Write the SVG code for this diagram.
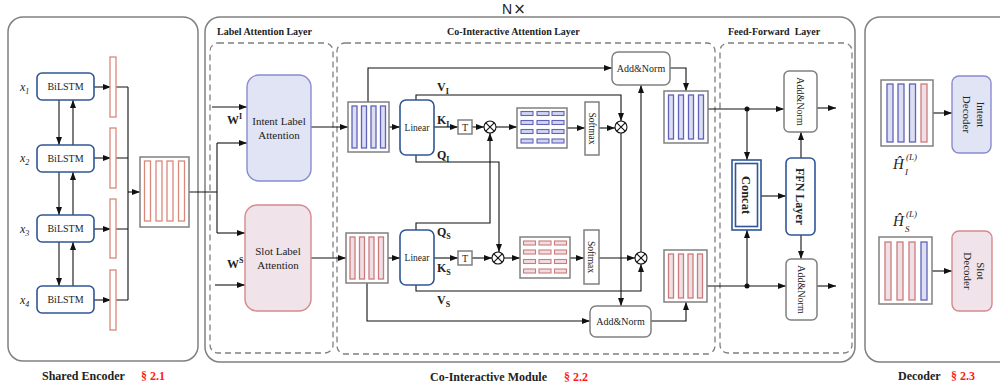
<svg xmlns="http://www.w3.org/2000/svg" width="1000" height="389" viewBox="0 0 1000 389">
<defs>
<style>
.t{font-family:"Liberation Serif",serif;fill:#222}
.b{font-weight:bold}
.frame{fill:#fff;stroke:#808080;stroke-width:1.5}
.dash{fill:none;stroke:#7f7f7f;stroke-width:1.3;stroke-dasharray:6 4}
.blu{fill:#fff;stroke:#2f5597;stroke-width:1.6}
.gr{fill:#fff;stroke:#808080;stroke-width:1.5}
.ln{fill:none;stroke:#111;stroke-width:1.1}
.ar{marker-end:url(#ah)}
.ob{fill:#fff;stroke:#d9897a;stroke-width:1.3}
.bb{fill:#dcdff2;stroke:#6262b8;stroke-width:1.3}
.rb{fill:#eee0e6;stroke:#cc7b7b;stroke-width:1.3}
.bc{fill:#d0d5f2;stroke:#6262b8;stroke-width:1.1}
.rc{fill:#f0dde2;stroke:#cc7b7b;stroke-width:1.1}
.red{fill:#ff1a1a}
</style>
<marker id="ah" viewBox="0 0 8 6" refX="8" refY="3" markerWidth="8" markerHeight="6" markerUnits="userSpaceOnUse" orient="auto">
<path d="M0,0 L8,3 L0,6 z" fill="#111"/>
</marker>
<g id="otimes">
<circle cx="0" cy="0" r="6" fill="#fff" stroke="#111" stroke-width="1.1"/>
<path d="M-4.2,-4.2 L4.2,4.2 M-4.2,4.2 L4.2,-4.2" stroke="#111" stroke-width="1.1"/>
</g>
</defs>
<rect width="1000" height="389" fill="#fff"/>

<!-- N x -->
<text x="502" y="14" font-family="Liberation Sans, sans-serif" font-size="14" fill="#222">N<tspan font-family="DejaVu Sans, sans-serif" font-size="15" dx="1">×</tspan></text>

<!-- Frames -->
<g id="shared-encoder-frame">
<rect class="frame" x="8" y="17" width="190" height="344" rx="15"/>
</g>
<g id="co-interactive-frame">
<rect class="frame" x="205" y="17" width="650" height="345" rx="15"/>
<rect class="dash" x="210" y="43" width="123" height="310" rx="8"/>
<rect class="dash" x="337" y="43" width="378" height="311" rx="8"/>
<rect class="dash" x="720" y="43" width="132" height="310" rx="8"/>
<text class="t b" x="217" y="35" font-size="10">Label Attention Layer</text>
<text class="t b" x="447" y="35" font-size="10">Co-Interactive Attention Layer</text>
<text class="t b" x="728" y="35" font-size="10" xml:space="preserve">Feed-Forward  Layer</text>
</g>
<g id="decoder-frame">
<rect class="frame" x="865" y="17" width="160" height="345" rx="15"/>
</g>

<!-- Connectors -->
<g id="connectors">
<path class="ln ar" d="M59,100 V145"/>
<path class="ln ar" d="M73,145 V100"/>
<path class="ln ar" d="M59,172 V215"/>
<path class="ln ar" d="M73,215 V172"/>
<path class="ln ar" d="M59,242 V286"/>
<path class="ln ar" d="M73,286 V242"/>
<path class="ln ar" d="M94,87 H111"/>
<path class="ln ar" d="M94,158 H111"/>
<path class="ln ar" d="M94,229 H111"/>
<path class="ln ar" d="M94,300 H111"/>
<path class="ln" d="M116,87 H128 M116,158 H128 M116,229 H128 M116,300 H128 M128,87 V300"/>
<path class="ln ar" d="M128,192 H140"/>
<path class="ln" d="M189,192 H217 M217,143 V233"/>
<path class="ln ar" d="M217,143 H247"/>
<path class="ln ar" d="M217,233 H245"/>
<path class="ln ar" d="M212,107 H247"/>
<path class="ln ar" d="M215,285 H245"/>
<path class="ln ar" d="M311,127 H348"/>
<path class="ln ar" d="M311,258 H346"/>
<path class="ln ar" d="M389,127 H400"/>
<path class="ln ar" d="M388,258 H400"/>
<path class="ln ar" d="M368,102 V68 H612"/>
<path class="ln ar" d="M670,68 H686 V91"/>
<path class="ln ar" d="M416,100 V95 H621 V121"/>
<path class="ln ar" d="M434,127 H458"/>
<path class="ln ar" d="M472,127 H484"/>
<path class="ln ar" d="M496,127 H517"/>
<path class="ln ar" d="M567,128 H585"/>
<path class="ln ar" d="M599,128 H615"/>
<path class="ln ar" d="M416,155 V162 H499 V252"/>
<path class="ln ar" d="M416,230 V223 H490 V133"/>
<path class="ln ar" d="M434,258 H458"/>
<path class="ln ar" d="M472,258 H492"/>
<path class="ln ar" d="M504,258 H520"/>
<path class="ln ar" d="M570,258 H584"/>
<path class="ln ar" d="M599,258 H635"/>
<path class="ln ar" d="M416,285 V291 H641 V264"/>
<path class="ln ar" d="M621,133 V306"/>
<path class="ln ar" d="M641,252 V85"/>
<path class="ln ar" d="M367,283 V321 H590"/>
<path class="ln ar" d="M651,321 H686 V302"/>
<path class="ln ar" d="M708,109 H784"/>
<path class="ln ar" d="M747,109 V160"/>
<path class="ln ar" d="M707,286 H786"/>
<path class="ln ar" d="M747,286 V230"/>
<path class="ln ar" d="M761,196 H786"/>
<path class="ln ar" d="M801,158 V132"/>
<path class="ln ar" d="M801,235 V259"/>
<path class="ln ar" d="M817,108 H836"/>
<path class="ln ar" d="M817,286 H836"/>
<circle cx="747" cy="109" r="2.5" fill="#111"/>
<circle cx="747" cy="286" r="2.5" fill="#111"/>
<path class="ln ar" d="M933,113 H952"/>
<path class="ln ar" d="M932,271 H952"/>
</g>

<!-- Encoder nodes -->
<g id="x-labels" class="t" font-style="italic" font-size="12">
<text x="20" y="91">x<tspan font-size="8" dy="3">1</tspan></text>
<text x="20" y="162">x<tspan font-size="8" dy="3">2</tspan></text>
<text x="20" y="233">x<tspan font-size="8" dy="3">3</tspan></text>
<text x="20" y="304">x<tspan font-size="8" dy="3">4</tspan></text>
</g>
<g id="bilstm1"><rect class="blu" x="37" y="73" width="57" height="27" rx="5"/><text class="t" x="65.5" y="90" font-size="10" text-anchor="middle">BiLSTM</text></g>
<g id="bilstm2"><rect class="blu" x="37" y="145" width="57" height="27" rx="5"/><text class="t" x="65.5" y="162" font-size="10" text-anchor="middle">BiLSTM</text></g>
<g id="bilstm3"><rect class="blu" x="37" y="215" width="57" height="27" rx="5"/><text class="t" x="65.5" y="232" font-size="10" text-anchor="middle">BiLSTM</text></g>
<g id="bilstm4"><rect class="blu" x="37" y="286" width="57" height="27" rx="5"/><text class="t" x="65.5" y="303" font-size="10" text-anchor="middle">BiLSTM</text></g>
<g id="hidden-bars">
<rect class="ob" x="110" y="57" width="6" height="60"/>
<rect class="ob" x="110" y="128" width="6" height="60"/>
<rect class="ob" x="110" y="199" width="6" height="59"/>
<rect class="ob" x="110" y="270" width="6" height="60"/>
</g>
<g id="encoder-output">
<rect class="gr" x="140" y="157" width="49" height="70"/>
<rect class="ob" x="144.5" y="161" width="6" height="60"/>
<rect class="ob" x="156" y="161" width="6" height="60"/>
<rect class="ob" x="167" y="161" width="6" height="60"/>
<rect class="ob" x="178.5" y="161" width="6" height="60"/>
</g>

<!-- Label attention -->
<g id="w-labels" class="t b" font-size="12">
<text x="227" y="124">W<tspan font-size="8" dy="-5">I</tspan></text>
<text x="227" y="268">W<tspan font-size="8" dy="-5">S</tspan></text>
</g>
<g id="intent-label-attention">
<rect x="247" y="75" width="64" height="106" rx="12" fill="#e1e4f4" stroke="#8a8ad0" stroke-width="1.4"/>
<text class="t" x="279" y="125" font-size="11" text-anchor="middle">Intent Label</text>
<text class="t" x="279" y="139" font-size="11" text-anchor="middle">Attention</text>
</g>
<g id="slot-label-attention">
<rect x="245" y="205" width="66" height="106" rx="12" fill="#f0e4ea" stroke="#d48a8a" stroke-width="1.4"/>
<text class="t" x="278" y="255" font-size="11" text-anchor="middle">Slot Label</text>
<text class="t" x="278" y="269" font-size="11" text-anchor="middle">Attention</text>
</g>

<!-- Co-interactive -->
<g id="intent-rep">
<rect class="gr" x="348" y="102" width="41" height="50"/>
<rect class="bb" x="352" y="106" width="5" height="42"/>
<rect class="bb" x="361.5" y="106" width="5" height="42"/>
<rect class="bb" x="371" y="106" width="5" height="42"/>
<rect class="bb" x="380.5" y="106" width="5" height="42"/>
</g>
<g id="slot-rep">
<rect class="gr" x="346" y="233" width="42" height="50"/>
<rect class="rb" x="350" y="237" width="5" height="42"/>
<rect class="rb" x="359.5" y="237" width="5" height="42"/>
<rect class="rb" x="369" y="237" width="5" height="42"/>
<rect class="rb" x="378.5" y="237" width="5" height="42"/>
</g>
<g id="linear-intent"><rect class="blu" x="400" y="100" width="34" height="55" rx="6"/><text class="t" x="417" y="131" font-size="9.5" text-anchor="middle">Linear</text></g>
<g id="linear-slot"><rect class="blu" x="400" y="230" width="34" height="55" rx="6"/><text class="t" x="417" y="261" font-size="9.5" text-anchor="middle">Linear</text></g>
<g id="qkv-labels" class="t b" font-size="12">
<text x="437" y="91">V<tspan font-size="8" dy="3">I</tspan></text>
<text x="437" y="124">K<tspan font-size="8" dy="3">I</tspan></text>
<text x="437" y="159">Q<tspan font-size="8" dy="3">I</tspan></text>
<text x="437" y="236">Q<tspan font-size="8" dy="3">S</tspan></text>
<text x="437" y="272">K<tspan font-size="8" dy="3">S</tspan></text>
<text x="437" y="304">V<tspan font-size="8" dy="3">S</tspan></text>
</g>
<g id="t-intent"><rect class="gr" x="458" y="120" width="14" height="14" stroke-width="1.3"/><text class="t" x="465" y="131" font-size="10" text-anchor="middle">T</text></g>
<g id="t-slot"><rect class="gr" x="458" y="251" width="14" height="14" stroke-width="1.3"/><text class="t" x="465" y="262" font-size="10" text-anchor="middle">T</text></g>
<g id="mul-intent-1"><use href="#otimes" x="490" y="127"/></g>
<g id="mul-slot-1"><use href="#otimes" x="498" y="258"/></g>
<g id="mul-intent-2"><use href="#otimes" x="621" y="127"/></g>
<g id="mul-slot-2"><use href="#otimes" x="641" y="258"/></g>
<g id="matrix-intent">
<rect class="gr" x="517" y="108" width="50" height="40" stroke-width="1.6"/>
<g class="bc">
<rect x="521" y="111.5" width="12" height="4"/><rect x="537" y="111.5" width="12" height="4"/><rect x="552" y="111.5" width="12" height="4"/>
<rect x="521" y="120.5" width="12" height="4"/><rect x="537" y="120.5" width="12" height="4"/><rect x="552" y="120.5" width="12" height="4"/>
<rect x="521" y="129.5" width="12" height="4"/><rect x="537" y="129.5" width="12" height="4"/><rect x="552" y="129.5" width="12" height="4"/>
<rect x="521" y="139" width="12" height="4"/><rect x="537" y="139" width="12" height="4"/><rect x="552" y="139" width="12" height="4"/>
</g>
</g>
<g id="matrix-slot">
<rect class="gr" x="520" y="237" width="50" height="41" stroke-width="1.6"/>
<g class="rc">
<rect x="523.5" y="241" width="12" height="4"/><rect x="539" y="241" width="12" height="4"/><rect x="554.5" y="241" width="12" height="4"/>
<rect x="523.5" y="250" width="12" height="4"/><rect x="539" y="250" width="12" height="4"/><rect x="554.5" y="250" width="12" height="4"/>
<rect x="523.5" y="259.5" width="12" height="4"/><rect x="539" y="259.5" width="12" height="4"/><rect x="554.5" y="259.5" width="12" height="4"/>
<rect x="523.5" y="269" width="12" height="4"/><rect x="539" y="269" width="12" height="4"/><rect x="554.5" y="269" width="12" height="4"/>
</g>
</g>
<g id="softmax-intent"><rect class="gr" x="585" y="102" width="14" height="53" stroke-width="1.3"/><text class="t" x="592" y="128.5" dy="3.2" font-size="9.5" text-anchor="middle" transform="rotate(90 592 128.5)">Softmax</text></g>
<g id="softmax-slot"><rect class="gr" x="584" y="230" width="15" height="54" stroke-width="1.3"/><text class="t" x="591.5" y="257" dy="3.2" font-size="9.5" text-anchor="middle" transform="rotate(90 591.5 257)">Softmax</text></g>
<g id="addnorm-intent"><rect class="gr" x="612" y="52" width="58" height="33" rx="6"/><text class="t" x="641" y="72" font-size="10" text-anchor="middle">Add&amp;Norm</text></g>
<g id="addnorm-slot"><rect class="gr" x="590" y="306" width="61" height="31" rx="6"/><text class="t" x="620.5" y="325" font-size="10" text-anchor="middle">Add&amp;Norm</text></g>
<g id="intent-out">
<rect class="gr" x="664" y="91" width="44" height="52"/>
<rect class="bb" x="668.5" y="95" width="5" height="44"/>
<rect class="bb" x="678.5" y="95" width="5" height="44"/>
<rect class="bb" x="688.5" y="95" width="5" height="44"/>
<rect class="bb" x="698.5" y="95" width="5" height="44"/>
</g>
<g id="slot-out">
<rect class="gr" x="664" y="250" width="43" height="52"/>
<rect class="rb" x="668.5" y="254" width="5" height="44"/>
<rect class="rb" x="678.5" y="254" width="5" height="44"/>
<rect class="rb" x="688" y="254" width="5" height="44"/>
<rect class="rb" x="697.5" y="254" width="5" height="44"/>
</g>

<!-- Feed forward -->
<g id="concat">
<rect class="blu" x="732" y="160" width="29" height="70"/>
<rect class="blu" x="735.5" y="163.5" width="22" height="63" stroke-width="1.3"/>
<text class="t b" x="746.5" y="195" dy="4.3" font-size="12.5" text-anchor="middle" transform="rotate(90 746.5 195)">Concat</text>
</g>
<g id="ffn-layer">
<rect class="blu" x="786" y="158" width="29" height="77" rx="5"/>
<text class="t b" x="800.5" y="196.5" dy="4.2" font-size="12" text-anchor="middle" transform="rotate(90 800.5 196.5)">FFN Layer</text>
</g>
<g id="ff-addnorm-intent"><rect class="gr" x="784" y="71" width="33" height="61" rx="5"/><text class="t" x="800.5" y="101.5" dy="3.4" font-size="10" text-anchor="middle" transform="rotate(90 800.5 101.5)">Add&amp;Norm</text></g>
<g id="ff-addnorm-slot"><rect class="gr" x="786" y="259" width="31" height="61" rx="5"/><text class="t" x="801.5" y="289.5" dy="3.4" font-size="10" text-anchor="middle" transform="rotate(90 801.5 289.5)">Add&amp;Norm</text></g>

<!-- Decoder -->
<g id="intent-final">
<rect class="gr" x="881" y="80" width="52" height="66"/>
<rect class="bb" x="887" y="84" width="6" height="58"/>
<rect class="bb" x="898" y="84" width="6" height="58"/>
<rect class="bb" x="909.5" y="84" width="6" height="58"/>
<rect class="rb" x="921" y="84" width="6" height="58"/>
<text class="t" x="893" y="169" font-size="15" font-style="italic">Ĥ</text>
<text class="t" x="906" y="160" font-size="9" font-style="italic">(L)</text>
<text class="t" x="905" y="175" font-size="9" font-style="italic">I</text>
</g>
<g id="slot-final">
<rect class="gr" x="879" y="237" width="53" height="67"/>
<rect class="rb" x="885" y="242" width="6" height="58"/>
<rect class="rb" x="897" y="242" width="6" height="58"/>
<rect class="rb" x="909" y="242" width="6" height="58"/>
<rect class="bb" x="921" y="242" width="6" height="58"/>
<text class="t" x="893" y="226" font-size="15" font-style="italic">Ĥ</text>
<text class="t" x="906" y="217" font-size="9" font-style="italic">(L)</text>
<text class="t" x="905" y="232" font-size="9" font-style="italic">S</text>
</g>
<g id="intent-decoder">
<rect x="952" y="76" width="39" height="77" rx="7" fill="#e1e4f4" stroke="#8a8ad0" stroke-width="1.4"/>
<text class="t" font-size="11" text-anchor="middle" transform="rotate(90 971.5 114.5)"><tspan x="971.5" y="109.5">Intent</tspan><tspan x="971.5" y="123">Decoder</tspan></text>
</g>
<g id="slot-decoder">
<rect x="952" y="231" width="40" height="80" rx="7" fill="#f0e4ea" stroke="#d48a8a" stroke-width="1.4"/>
<text class="t" font-size="11" text-anchor="middle" transform="rotate(90 972 271)"><tspan x="972" y="266">Slot</tspan><tspan x="972" y="279.5">Decoder</tspan></text>
</g>

<!-- Captions -->
<g id="captions" font-size="12">
<text class="t b" x="42" y="380">Shared Encoder</text>
<text class="b red" x="141" y="380" font-family="Liberation Serif, serif">§ 2.1</text>
<text class="t b" x="430" y="381">Co-Interactive Module</text>
<text class="b red" x="564" y="381" font-family="Liberation Serif, serif">§ 2.2</text>
<text class="t b" x="898" y="380">Decoder</text>
<text class="b red" x="951" y="380" font-family="Liberation Serif, serif">§ 2.3</text>
</g>
</svg>
